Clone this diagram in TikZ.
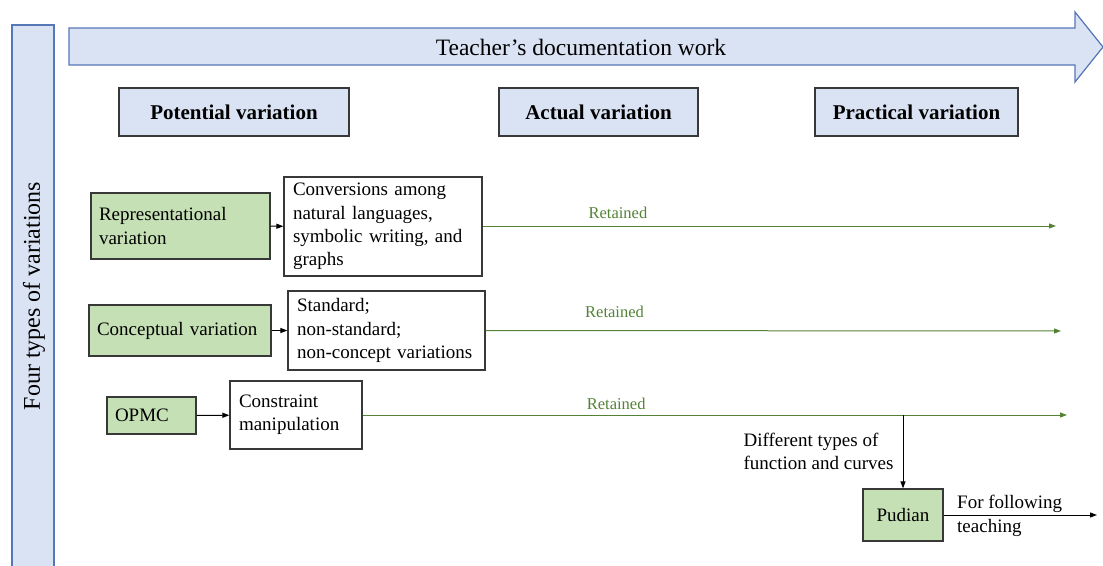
\documentclass[tikz,border=0pt]{standalone}
\usepackage{fontspec}
\setmainfont{Liberation Serif}
\newfontfamily\tnr{Liberation Serif}
\usetikzlibrary{arrows.meta,positioning}
\definecolor{paleblue}{HTML}{DAE3F3}
\definecolor{barblue}{HTML}{5677B8}
\definecolor{palegreen}{HTML}{C5E0B4}
\definecolor{leafgreen}{HTML}{548235}

\begin{document}
\begin{tikzpicture}[x=1pt,y=-1pt,
  every node/.style={font=\tnr\fontsize{19}{23.3}\selectfont},
  headbox/.style={draw=black!78,line width=1.3pt,fill=paleblue,minimum height=48pt,inner sep=0pt,
    font=\tnr\fontsize{21}{25}\selectfont\bfseries},
  greenbox/.style={draw=black!78,line width=1.2pt,fill=palegreen,align=left,inner xsep=8pt,inner ysep=0pt},
  textbox/.style={draw=black!78,line width=1.2pt,fill=white,align=left,inner xsep=9pt,inner ysep=0pt},
  keep/.style={leafgreen,line width=1pt,-{Triangle[length=7pt,width=5pt]}},
  link/.style={black,line width=1pt,-{Triangle[length=7pt,width=5pt]}},
  tag/.style={leafgreen,font=\tnr\fontsize{16.5}{19}\selectfont,inner sep=2pt}]
  \useasboundingbox (0,0) rectangle (1103,565);
  % side bar and the big arrow on top
  \fill[paleblue,draw=barblue,line width=1.2pt] (12,25) rectangle (54,580);
  \node[rotate=90,font=\tnr\fontsize{24}{28}\selectfont] (four) at (34,296) {Four types of variations};
  \fill[paleblue,draw=barblue,line width=1.2pt]
    (69,28) -- (1075,28) -- (1075,12) -- (1103,47) -- (1075,82) -- (1075,65) -- (69,65) -- cycle;
  \node[font=\tnr\fontsize{23.5}{27}\selectfont] (work) at (581,47) {Teacher’s documentation work};
  % the three stages
  \node[headbox,minimum width=230pt] (pot) at (234,112) {Potential variation};
  \node[headbox,minimum width=199pt] (act) at (598.5,112) {Actual variation};
  \node[headbox,minimum width=203pt] (prac) at (916.5,112) {Practical variation};
  % first row
  \node[greenbox,text width=163pt,minimum height=66pt] (rep) at (180.5,226) {Representational\\variation};
  \node[textbox,text width=180pt,minimum height=99pt] (conv) at (383,226.5)
    {Conversions among\\natural languages,\\symbolic writing, and\\graphs};
  \draw[link] (rep) -- (conv);
  \coordinate (e1) at (1056,226);
  \draw[keep] (conv.east |- rep) -- node[tag,above=5pt,pos=0.236] (r1) {Retained} (e1);
  % second row
  \node[greenbox,text width=166pt,minimum height=51pt] (concept) at (180,330.5) {Conceptual variation};
  \node[textbox,text width=179pt,minimum height=79pt] (std) at (386.5,330.5)
    {Standard;\\non-standard;\\non-concept variations};
  \draw[link] (concept) -- (std);
  \coordinate (e2) at (1061,331);
  \draw[keep] (std.east) -- node[tag,above=10pt,pos=0.224] (r2) {Retained} (e2);
  % third row
  \node[greenbox,text width=73pt,minimum height=37pt] (opmc) at (151.5,415.5) {OPMC};
  \node[textbox,text width=114pt,minimum height=68pt] (cons) at (296,415) {Constraint\\manipulation};
  \draw[link] (opmc) -- (cons);
  \coordinate (e3) at (1067,415);
  \draw[keep] (cons.east) -- node[tag,above=3pt,pos=0.36] (r3) {Retained} (e3);
  % branch to Pudian
  \node[greenbox,align=center,minimum width=80pt,minimum height=52pt] (pud) at (903,515) {Pudian};
  \coordinate (fork) at (pud.north |- e3);
  \draw[link] (fork) -- node[left,align=left,inner sep=9pt] (diff) {Different types of\\function and curves} (pud);
  \coordinate (out) at (1097,515);
  \draw[link] (pud) -- (out);
  \node[align=left,anchor=west,inner sep=0pt] (teach) at (957,516) {For following\\teaching};
\end{tikzpicture}
\end{document}
